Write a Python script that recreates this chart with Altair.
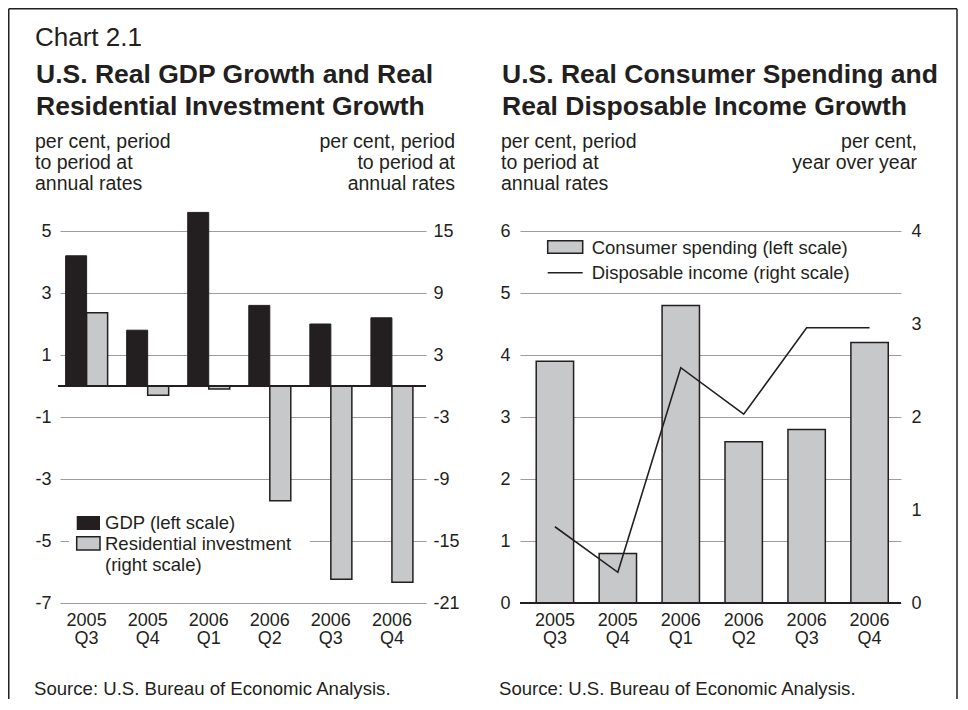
import altair as alt
import pandas as pd

# ---------------- data ----------------
quarters = ["2005 Q3", "2005 Q4", "2006 Q1", "2006 Q2", "2006 Q3", "2006 Q4"]
gdp_growth = [4.2, 1.8, 5.6, 2.6, 2.0, 2.2]
res_inv_growth = [7.1, -0.9, -0.3, -11.1, -18.7, -19.0]
consumer_spending = [3.9, 0.8, 4.8, 2.6, 2.8, 4.2]
disposable_income = [0.82, 0.33, 2.53, 2.03, 2.96, 2.96]

left_ticks = [-7, -5, -3, -1, 1, 3, 5]
left_right_ticks = [-21, -15, -9, -3, 3, 9, 15]
right_ticks = [0, 1, 2, 3, 4, 5, 6]
right_right_ticks = [0, 1, 2, 3, 4]

series_names = ["GDP", "Residential investment"]
chart_label = "Chart 2.1"
left_title = ["U.S. Real GDP Growth and Real", "Residential Investment Growth"]
right_title = ["U.S. Real Consumer Spending and", "Real Disposable Income Growth"]
units_period = ["per cent, period", "to period at", "annual rates"]
units_yoy = ["per cent,", "year over year"]
source_text = "Source: U.S. Bureau of Economic Analysis."
left_legend = ["GDP (left scale)", "Residential investment", "(right scale)"]
right_legend = ["Consumer spending (left scale)", "Disposable income (right scale)"]

# ---------------- style ----------------
FONT = "Liberation Sans, Arial, Helvetica, sans-serif"
INK = "#231f20"
GRID = "#9d9d9d"
GREY = "#c7c8ca"
W1, W2, H = 366, 381, 372
PLAIN = "'' + datum.value"

one = pd.DataFrame({"k": [0]})
gdp_df = pd.DataFrame({"quarter": quarters, "value": gdp_growth, "series": series_names[0]})
res_df = pd.DataFrame({"quarter": quarters, "value": res_inv_growth, "series": series_names[1]})
cons_df = pd.DataFrame({"quarter": quarters, "value": consumer_spending})
inc_df = pd.DataFrame({"quarter": quarters, "value": disposable_income})


def text(lines, x, y, size=19.5, weight="normal", align="left", lh=21):
    return alt.Chart(one).mark_text(
        align=align, baseline="alphabetic", fontSize=size, fontWeight=weight,
        font=FONT, color=INK, lineHeight=lh
    ).encode(x=alt.value(x), y=alt.value(y), text=alt.value(lines))


def hrule(x, x2, y, width=1.5, color=INK):
    return alt.Chart(one).mark_rule(color=color, strokeWidth=width).encode(
        x=alt.value(x), x2=alt.value(x2), y=alt.value(y))


def vrule(x, y, y2, width=1.5, color=INK):
    return alt.Chart(one).mark_rule(color=color, strokeWidth=width).encode(
        x=alt.value(x), y=alt.value(y), y2=alt.value(y2))


def box(x, x2, y, y2, fill, stroke=None, sw=1.5):
    kw = dict(fill=fill)
    if stroke:
        kw.update(stroke=stroke, strokeWidth=sw)
    else:
        kw.update(strokeWidth=0)
    return alt.Chart(one).mark_rect(**kw).encode(
        x=alt.value(x), x2=alt.value(x2), y=alt.value(y), y2=alt.value(y2))


x_axis = alt.Axis(title=None, labelExpr="split(datum.label, ' ')", labelAngle=0,
                  ticks=False, domain=False, labelPadding=8, labelLineHeight=18.5)

# ---------------- left panel ----------------
xq1 = alt.X("quarter:N", sort=quarters,
            scale=alt.Scale(paddingInner=0.312, paddingOuter=0.153, align=0.3),
            axis=x_axis)
xoff = alt.XOffset("series:N", scale=alt.Scale(domain=series_names, paddingInner=0, paddingOuter=0))

gdp_bars = alt.Chart(gdp_df).mark_bar(color=INK, stroke=INK, strokeWidth=1).encode(
    x=xq1, xOffset=xoff,
    y=alt.Y("value:Q", scale=alt.Scale(domain=[-7, 5], nice=False, zero=False),
            axis=alt.Axis(values=left_ticks, title=None, grid=True, ticks=False,
                          domain=False, labelPadding=9, labelExpr=PLAIN)))

res_bars = alt.Chart(res_df).mark_bar(color=GREY, stroke=INK, strokeWidth=1.5).encode(
    x=xq1, xOffset=xoff,
    y=alt.Y("value:Q", scale=alt.Scale(domain=[-21, 15], nice=False, zero=False),
            axis=alt.Axis(values=left_right_ticks, title=None, orient="right", grid=False,
                          ticks=False, domain=False, labelPadding=7, labelExpr=PLAIN)))

zero_left = alt.Chart(one).mark_rule(color=INK, strokeWidth=2).encode(
    y=alt.datum(0), x=alt.value(-2), x2=alt.value(W1))

left = alt.layer(
    box(9, 250, 274, 354, "white"),
    gdp_bars,
    alt.layer(res_bars, zero_left),
    box(16.7, 40, 285, 299, INK),
    box(16.7, 40, 305.7, 319, GREY, INK),
    text([left_legend[0]], 45, 297.5, size=18.5),
    text(left_legend[1:], 45, 318.5, size=18.5, lh=21),
    text([chart_label], -25, -185, size=26),
    text(left_title, -24, -148, size=26.5, weight="bold", lh=32),
    text(units_period, -25, -83),
    text(units_period, 395, -83, align="right"),
    text([source_text], -26, 464, size=18.6),
    vrule(-51.25, -222.25, 468),
    hrule(-51.25, 897, -222.25),
    vrule(897, -222.25, 468),
).resolve_scale(y="independent").properties(width=W1, height=H)

# ---------------- right panel ----------------
xq2 = alt.X("quarter:N", sort=quarters,
            scale=alt.Scale(paddingInner=0.406, paddingOuter=0.23, align=0.56),
            axis=x_axis)

cons_bars = alt.Chart(cons_df).mark_bar(color=GREY, stroke=INK, strokeWidth=1.5).encode(
    x=xq2,
    y=alt.Y("value:Q", scale=alt.Scale(domain=[0, 6], nice=False, zero=False),
            axis=alt.Axis(values=right_ticks, title=None, grid=True, ticks=False,
                          domain=False, labelPadding=10, labelExpr=PLAIN)))
zero_right = alt.Chart(one).mark_rule(color=INK, strokeWidth=2).encode(
    y=alt.datum(0), x=alt.value(0), x2=alt.value(W2))

inc_line = alt.Chart(inc_df).mark_line(color=INK, strokeWidth=1.6).encode(
    x=xq2,
    y=alt.Y("value:Q", scale=alt.Scale(domain=[0, 4], nice=False, zero=False),
            axis=alt.Axis(values=right_right_ticks, title=None, orient="right", grid=False,
                          ticks=False, domain=False, labelPadding=10, labelExpr=PLAIN)))

right = alt.layer(
    alt.layer(cons_bars, zero_right),
    inc_line,
    box(27.7, 62.7, 9.7, 22.3, GREY, INK),
    hrule(27.7, 62.7, 41.7, width=1.6),
    text([right_legend[0]], 71.7, 23, size=18.5),
    text([right_legend[1]], 71.7, 48, size=18.5),
    text(right_title, -18, -148, size=26.5, weight="bold", lh=32),
    text(units_period, -19, -83),
    text(units_yoy, 397, -83, align="right"),
    text([source_text], -21, 464, size=18.6),
).resolve_scale(y="independent").properties(width=W2, height=H)

chart = alt.hconcat(left, right, spacing=94, bounds="flush").properties(
    padding=0, background="white"
).configure_view(strokeWidth=0).configure_axis(
    labelFont=FONT, labelFontSize=18, labelColor=INK, gridColor=GRID, gridWidth=1.2
)

chart.save("out.html", embed_options={"renderer": "svg", "actions": False})
